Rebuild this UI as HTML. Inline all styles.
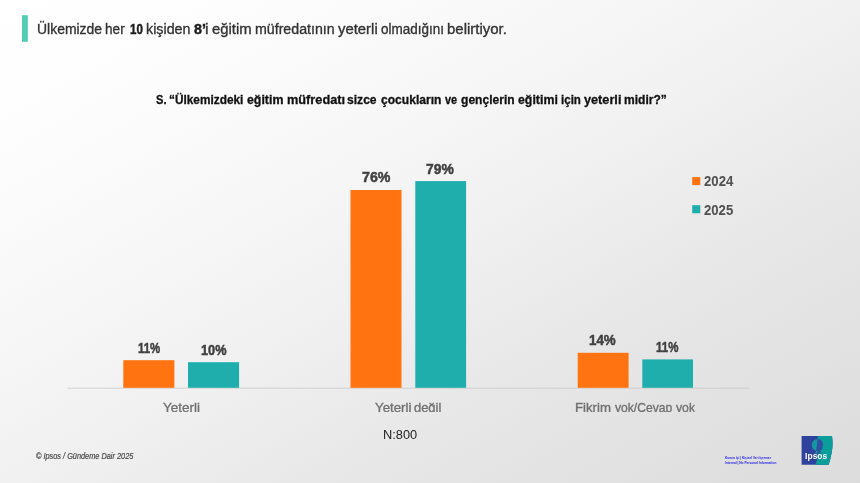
<!DOCTYPE html>
<html><head><meta charset="utf-8">
<style>
html,body{margin:0;padding:0;}
body{width:860px;height:483px;overflow:hidden;position:relative;font-family:"Liberation Sans",sans-serif;
background:linear-gradient(to bottom right,#ffffff 0%,#fdfdfd 15%,#f7f7f7 35%,#f1f1f1 50%,#e7e7e7 70%,#dcdcdc 100%);}
.x{position:absolute;white-space:nowrap;transform-origin:0 0;line-height:1;}
svg{position:absolute;left:0;top:0;}
</style></head><body>
<div id="txt" style="position:absolute;left:0;top:0;width:860px;height:483px;will-change:transform">
<svg width="860" height="483" viewBox="0 0 860 483">
<rect x="22" y="15.2" width="5.8" height="26.6" fill="#50CDB4"/>
<line x1="67.4" y1="388.2" x2="748.8" y2="388.2" stroke="#c8c8c8" stroke-width="0.75"/>
<g fill="#FF7411">
<rect x="123.3" y="360.2" width="51.1" height="27.6"/>
<rect x="350.5" y="190" width="51" height="197.8"/>
<rect x="577.7" y="352.8" width="50.9" height="35"/>
<rect x="692.2" y="177.1" width="8.1" height="8"/>
</g>
<g fill="#1FAEAC">
<rect x="188" y="362.2" width="51.1" height="25.6"/>
<rect x="415.3" y="181.1" width="50.8" height="206.7"/>
<rect x="642.3" y="359.4" width="50.7" height="28.4"/>
<rect x="692.2" y="205.2" width="8.1" height="8.1"/>
</g>
<defs><clipPath id="lg"><path d="M801.6,436.1 L832,436.1 Q833.2,445 831.8,452 Q830.6,459 828.7,464.7 L801.6,464.7 Z"/></clipPath></defs>
<g clip-path="url(#lg)">
<rect x="800" y="434" width="36" height="33" fill="#30439C"/>
<path d="M817.6,434 L817.8,455 Q817.6,460 814.8,466 L840,466 L840,434 Z" fill="#0A9D99"/>
<path d="M817.7,439 A6,6 0 0 0 817.7,451 L817.7,453.5 L814.2,453.5 Q816.2,452.5 816.3,450.6 Z" fill="#1596A0"/>
<path d="M817.7,439 Q821.5,439 822.6,442.5 L823.2,445.6 L822.3,446.2 L822.6,448 Q822.3,450 820.2,450.2 Q819.8,452.4 821.6,453.5 L817.7,453.5 Z" fill="#2F4FA2"/>
</g>
<text x="805.1" y="459.1" font-family="Liberation Sans, sans-serif" font-size="9.2" font-weight="bold" fill="#ffffff" textLength="22.2" lengthAdjust="spacingAndGlyphs">Ipsos</text>
</svg>
<div class="x" style="left:37.28px;top:21.43px;font-size:15.2px;color:#333333;transform:scaleX(0.9184);-webkit-text-stroke:0.35px #333333;">Ülkemizde</div>
<div class="x" style="left:105.30px;top:21.43px;font-size:15.2px;color:#333333;transform:scaleX(0.8964);-webkit-text-stroke:0.35px #333333;">her</div>
<div class="x" style="left:129.63px;top:21.43px;font-size:15.2px;color:#1c1c1c;transform:scaleX(0.7613);font-weight:bold;-webkit-text-stroke:0.5px #1c1c1c;">10</div>
<div class="x" style="left:146.26px;top:21.43px;font-size:15.2px;color:#333333;transform:scaleX(0.9407);-webkit-text-stroke:0.35px #333333;">kişiden</div>
<div class="x" style="left:193.73px;top:21.43px;font-size:15.2px;color:#1c1c1c;transform:scaleX(0.9422);font-weight:bold;-webkit-text-stroke:0.5px #1c1c1c;">8’</div>
<div class="x" style="left:205.23px;top:21.43px;font-size:15.2px;color:#333333;transform:scaleX(1.0667);-webkit-text-stroke:0.35px #333333;">i</div>
<div class="x" style="left:212.31px;top:21.43px;font-size:15.2px;color:#333333;transform:scaleX(0.9783);-webkit-text-stroke:0.35px #333333;">eğitim</div>
<div class="x" style="left:254.87px;top:21.43px;font-size:15.2px;color:#333333;transform:scaleX(0.9341);-webkit-text-stroke:0.35px #333333;">müfredatının</div>
<div class="x" style="left:337.80px;top:21.43px;font-size:15.2px;color:#333333;transform:scaleX(0.9797);-webkit-text-stroke:0.35px #333333;">yeterli</div>
<div class="x" style="left:380.56px;top:21.43px;font-size:15.2px;color:#333333;transform:scaleX(0.8870);-webkit-text-stroke:0.35px #333333;">olmadığını</div>
<div class="x" style="left:446.51px;top:21.43px;font-size:15.2px;color:#333333;transform:scaleX(0.9863);-webkit-text-stroke:0.35px #333333;">belirtiyor.</div>
<div class="x" style="left:155.56px;top:93.93px;font-size:12.6px;color:#111111;transform:scaleX(0.8857);font-weight:bold;-webkit-text-stroke:0.3px #111111;">S.</div>
<div class="x" style="left:169.39px;top:93.93px;font-size:12.6px;color:#111111;transform:scaleX(0.9406);font-weight:bold;-webkit-text-stroke:0.3px #111111;">“Ülkemizdeki</div>
<div class="x" style="left:247.21px;top:93.93px;font-size:12.6px;color:#111111;transform:scaleX(0.9806);font-weight:bold;-webkit-text-stroke:0.3px #111111;">eğitim</div>
<div class="x" style="left:287.04px;top:93.93px;font-size:12.6px;color:#111111;transform:scaleX(1.0117);font-weight:bold;-webkit-text-stroke:0.3px #111111;">müfredatı</div>
<div class="x" style="left:347.42px;top:93.93px;font-size:12.6px;color:#111111;transform:scaleX(0.9600);font-weight:bold;-webkit-text-stroke:0.3px #111111;">sizce</div>
<div class="x" style="left:380.92px;top:93.93px;font-size:12.6px;color:#111111;transform:scaleX(0.9587);font-weight:bold;-webkit-text-stroke:0.3px #111111;">çocukların</div>
<div class="x" style="left:444.70px;top:93.93px;font-size:12.6px;color:#111111;transform:scaleX(0.8667);font-weight:bold;-webkit-text-stroke:0.3px #111111;">ve</div>
<div class="x" style="left:460.92px;top:93.93px;font-size:12.6px;color:#111111;transform:scaleX(0.9589);font-weight:bold;-webkit-text-stroke:0.3px #111111;">gençlerin</div>
<div class="x" style="left:518.21px;top:93.93px;font-size:12.6px;color:#111111;transform:scaleX(0.9809);font-weight:bold;-webkit-text-stroke:0.3px #111111;">eğitimi</div>
<div class="x" style="left:561.21px;top:93.93px;font-size:12.6px;color:#111111;transform:scaleX(0.9185);font-weight:bold;-webkit-text-stroke:0.3px #111111;">için</div>
<div class="x" style="left:583.95px;top:93.93px;font-size:12.6px;color:#111111;transform:scaleX(1.0083);font-weight:bold;-webkit-text-stroke:0.3px #111111;">yeterli</div>
<div class="x" style="left:623.98px;top:93.93px;font-size:12.6px;color:#111111;transform:scaleX(0.9549);font-weight:bold;-webkit-text-stroke:0.3px #111111;">midir?”</div>
<div class="x" style="left:137.52px;top:340.89px;font-size:14.9px;color:#404040;transform:scaleX(0.7679);font-weight:bold;-webkit-text-stroke:0.5px #404040;">11%</div>
<div class="x" style="left:200.56px;top:342.89px;font-size:14.9px;color:#404040;transform:scaleX(0.8557);font-weight:bold;-webkit-text-stroke:0.5px #404040;">10%</div>
<div class="x" style="left:361.52px;top:170.29px;font-size:14.9px;color:#404040;transform:scaleX(0.9517);font-weight:bold;-webkit-text-stroke:0.5px #404040;">76%</div>
<div class="x" style="left:426.33px;top:161.69px;font-size:14.9px;color:#404040;transform:scaleX(0.9310);font-weight:bold;-webkit-text-stroke:0.5px #404040;">79%</div>
<div class="x" style="left:589.33px;top:332.89px;font-size:14.9px;color:#404040;transform:scaleX(0.8974);font-weight:bold;-webkit-text-stroke:0.5px #404040;">14%</div>
<div class="x" style="left:656.42px;top:339.89px;font-size:14.9px;color:#404040;transform:scaleX(0.7714);font-weight:bold;-webkit-text-stroke:0.5px #404040;">11%</div>
<div class="x" style="left:163.19px;top:400.71px;font-size:13.1px;color:#707070;transform:scaleX(1.0273);-webkit-text-stroke:0.35px #707070;height:11.69px;overflow:hidden;">Yeterli</div>
<div class="x" style="left:375.49px;top:400.71px;font-size:13.1px;color:#707070;transform:scaleX(1.0129);-webkit-text-stroke:0.35px #707070;height:11.69px;overflow:hidden;">Yeterli</div>
<div class="x" style="left:413.91px;top:400.71px;font-size:13.1px;color:#707070;transform:scaleX(0.9849);-webkit-text-stroke:0.35px #707070;height:11.69px;overflow:hidden;">değil</div>
<div class="x" style="left:575.49px;top:400.71px;font-size:13.1px;color:#707070;transform:scaleX(1.0088);-webkit-text-stroke:0.35px #707070;height:11.69px;overflow:hidden;">Fikrim</div>
<div class="x" style="left:615.00px;top:400.71px;font-size:13.1px;color:#707070;transform:scaleX(0.9241);-webkit-text-stroke:0.35px #707070;height:11.69px;overflow:hidden;">yok/Cevap</div>
<div class="x" style="left:675.80px;top:400.71px;font-size:13.1px;color:#707070;transform:scaleX(0.9333);-webkit-text-stroke:0.35px #707070;height:11.69px;overflow:hidden;">yok</div>
<div class="x" style="left:703.54px;top:174.30px;font-size:14.3px;color:#505050;transform:scaleX(0.9216);font-weight:bold;">2024</div>
<div class="x" style="left:703.54px;top:202.50px;font-size:14.3px;color:#505050;transform:scaleX(0.9194);font-weight:bold;">2025</div>
<div class="x" style="left:382.76px;top:428.59px;font-size:12.3px;color:#222222;transform:scaleX(1.0413);">N:800</div>
<div class="x" style="left:36.08px;top:452.17px;font-size:8.3px;color:#484848;transform:scaleX(0.8856);font-style:italic;-webkit-text-stroke:0.2px #484848;">© Ipsos / Gündeme Dair 2025</div>
<div class="x" style="left:724.89px;top:456.04px;font-size:7px;color:#2424e6;transform:scale(0.4456,0.5);font-weight:bold;">Kurum İçi | Kişisel Veri İçermez</div>
<div class="x" style="left:724.89px;top:460.84px;font-size:7px;color:#2424e6;transform:scale(0.4571,0.5);font-weight:bold;">Internal | No Personal Information</div>
</div>
</body></html>
